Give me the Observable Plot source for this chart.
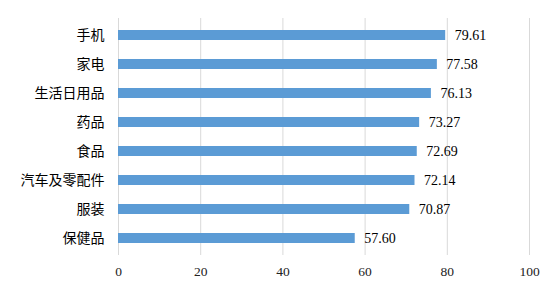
<!DOCTYPE html>
<html>
<head>
<meta charset="utf-8">
<script src="https://cdn.jsdelivr.net/npm/d3@7"></script>
<script src="https://cdn.jsdelivr.net/npm/@observablehq/plot@0.6"></script>
<style>
  html, body { margin: 0; padding: 0; background: #fff; }
  #chart { width: 557px; height: 293px; }
</style>
</head>
<body>
<div id="chart"></div>
<script>
const categories = ["手机", "家电", "生活日用品", "药品", "食品", "汽车及零配件", "服装", "保健品"];
const values = [79.61, 77.58, 76.13, 73.27, 72.69, 72.14, 70.87, 57.60];
const xTicks = [0, 20, 40, 60, 80, 100];

const data = categories.map((c, i) => ({category: c, value: values[i]}));

const chart = Plot.plot({
  width: 557,
  height: 293,
  marginLeft: 118,
  marginRight: 28,
  marginTop: 18,
  marginBottom: 38,
  style: {
    background: "#fff",
    overflow: "visible",
    fontFamily: "'Liberation Serif', 'Noto Sans CJK SC', serif"
  },
  x: {domain: [0, 100], ticks: xTicks},
  y: {domain: categories, paddingInner: 0.66, paddingOuter: 0.33},
  marks: [
    Plot.ruleX(xTicks, {stroke: "#d9d9d9", strokeWidth: 1}),
    Plot.barX(data, {y: "category", x: "value", fill: "#5b9bd5"}),
    Plot.text(data, {
      y: "category", x: "value",
      text: d => d.value.toFixed(2),
      textAnchor: "start", dx: 9,
      fontSize: 14, fill: "#000"
    }),
    Plot.axisX({
      ticks: xTicks, tickSize: 0, tickPadding: 11, label: null,
      fontSize: 13.5, color: "#222"
    }),
    Plot.axisY({
      tickSize: 0, tickPadding: 14, label: null,
      fontSize: 14, color: "#000"
    })
  ]
});
document.getElementById("chart").appendChild(chart);
</script>
</body>
</html>
